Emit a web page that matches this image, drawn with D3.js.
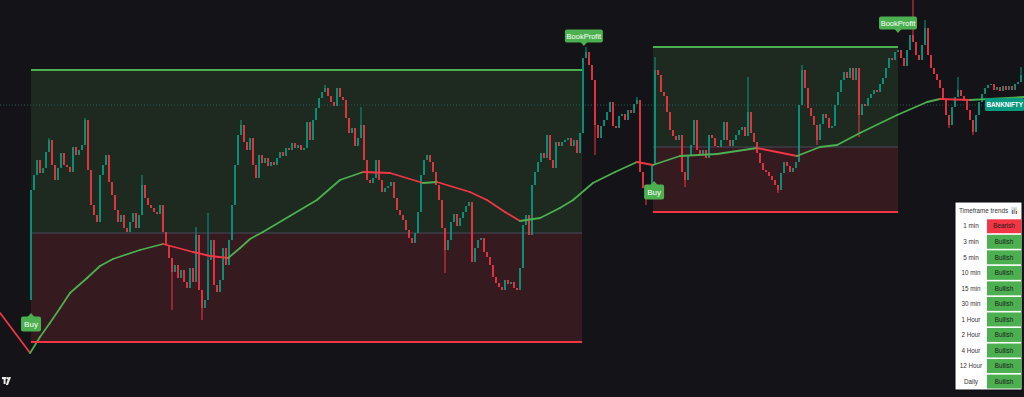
<!DOCTYPE html>
<html><head><meta charset="utf-8">
<script src="https://cdn.jsdelivr.net/npm/d3@7"></script>
<style>html,body{margin:0;padding:0;background:#141317;overflow:hidden}svg{display:block}</style>
</head><body><svg id="c" width="1024" height="397"></svg>
<script>
// ---------- DATA ----------
const symbol = "BANKNIFTY";
const lastPrice = 44295;
const firstOpen = 44100;
const closes = [
44210,44225,44240,44227,44232,44248,44260,44235,44220,44232,
44247,44235,44233,44228,44253,44245,44250,44255,44280,44230,
44195,44185,44178,44225,44235,44245,44218,44205,44190,44178,
44185,44172,44168,44178,44187,44172,44185,44215,44202,44195,
44192,44188,44186,44195,44168,44155,44142,44128,44135,44122,
44130,44118,44112,44132,44118,44165,44110,44092,44100,44140,
44160,44115,44108,44120,44152,44135,44160,44195,44235,44265,
44275,44258,44250,44262,44235,44222,44245,44237,44242,44234,
44238,44235,44242,44248,44244,44252,44250,44257,44252,44255,
44250,44252,44278,44260,44280,44292,44302,44308,44312,44304,
44298,44294,44312,44303,44300,44282,44267,44272,44254,44262,
44275,44240,44220,44217,44222,44240,44220,44208,44212,44214,
44218,44202,44190,44185,44180,44170,44162,44157,44167,44188,
44225,44240,44245,44238,44228,44215,44200,44172,44150,44160,
44178,44186,44174,44182,44188,44194,44198,44138,44152,44160,
44162,44148,44143,44135,44123,44117,44113,44110,44120,44116,
44118,44112,44110,44132,44175,44185,44165,44215,44228,44238,
44247,44242,44265,44240,44232,44258,44254,44258,44260,44262,
44254,44260,44247,44267,44342,44348,44335,44320,44275,44262,
44274,44280,44288,44298,44274,44272,44284,44286,44280,44290,
44287,44296,44300,44228,44212,44202,44210,44235,44330,44325,
44308,44304,44288,44270,44264,44260,44265,44228,44220,44245,
44255,44280,44250,44245,44250,44242,44265,44262,44254,44253,
44260,44278,44260,44254,44260,44265,44270,44273,44264,44288,
44267,44258,44247,44237,44230,44228,44224,44220,44215,44210,
44227,44238,44234,44228,44232,44238,44295,44330,44312,44292,
44284,44275,44260,44276,44286,44282,44272,44274,44295,44308,
44320,44328,44322,44332,44320,44332,44285,44296,44294,44302,
44306,44310,44308,44316,44322,44332,44342,44340,44348,44350,
44342,44334,44350,44365,44358,44345,44340,44355,44372,44345,
44332,44326,44320,44312,44300,44285,44275,44293,44303,44310,
44304,44300,44290,44280,44268,44285,44298,44306,44312,44315,
44316,44310,44313,44309,44314,44310,44314,44310,44316,44318,
44325];
const spikeHighIdx = [6,18,37,55,59,70,98,110,185,202,208,239,257,294,298,309,330];
const spikeHighVal = [44262,44282,44225,44173,44187,44280,44315,44293,44353,44303,44343,44323,44335,44400,44380,44323,44333];
const spikeLowIdx = [47,57,138,188,205,218,249,262,276,306,314];
const spikeLowVal = [44090,44080,44127,44245,44195,44213,44207,44255,44263,44272,44265];

const maIdx = [-10.3,-0.3,3,6.3,9.7,13,18.7,23,27.3,36.3,44,54,59.7,65.7,69.7,73,77.3,86.3,95.3,103,110.7,119.7,130.7,135.3,146.3,152,158,163,169.7,176.3,180.7,187.3,194.7,202,207.3,216.3,228.7,242,255.3,263,268.7,276.3,288.7,298.7,303,313,331];
const maVal = [44087,44047,44063,44077,44092,44107,44122,44134,44141,44150,44156,44148,44144,44142,44152,44161,44168,44184,44200,44220,44228,44227,44217,44218,44208,44200,44188,44179,44182,44192,44200,44217,44228,44238,44235,44244,44246,44252,44244,44253,44255,44267,44285,44298,44301,44300,44303];

const zoneStart = [0, 207.3];
const zoneEnd = [183.7, 289];
const zoneTarget = [44330, 44353];
const zoneEntry = [44167, 44253];
const zoneStop = [44058, 44188];

const signalText = ["Buy","Buy","BookProfit","BookProfit"];
const signalIdx = [0, 207.7, 184.3, 289];
const signalPrice = [44087, 44219, 44354, 44367];
const signalSide = ["below","below","above","above"];

const tableTitle = "Timeframe trends";
const tfLabels = ["1 min","3 min","5 min","10 min","15 min","30 min","1 Hour","2 Hour","4 Hour","12 Hour","Daily"];
const tfTrends = ["Bearish","Bullish","Bullish","Bullish","Bullish","Bullish","Bullish","Bullish","Bullish","Bullish","Bullish"];

// ---------- DRAW ----------
const W = 1024, H = 397;
const UP = "#089981", DN = "#f23645", GR = "#4caf50";
const FONT = "Liberation Sans, Arial, sans-serif";
const svg = d3.select("#c");
svg.append("rect").attr("width", W).attr("height", H).attr("fill", "#141317");

const x = d3.scaleLinear().domain([0, 330]).range([31, 1021]);
const y = d3.scaleLinear().domain([44400, 44003]).range([0, 397]);

const candles = closes.map((c, i) => {
  const o = i === 0 ? firstOpen : closes[i - 1];
  return {i, o, c, h: Math.max(o, c), l: Math.min(o, c)};
});
spikeHighIdx.forEach((i, k) => { candles[i].h = Math.max(candles[i].h, spikeHighVal[k]); });
spikeLowIdx.forEach((i, k) => { candles[i].l = Math.min(candles[i].l, spikeLowVal[k]); });

// zones
const zones = zoneStart.map((s, k) => ({s, e: zoneEnd[k], t: zoneTarget[k], m: zoneEntry[k], b: zoneStop[k]}));
const gz = svg.append("g");
gz.selectAll("rect.g").data(zones).join("rect")
  .attr("x", d => x(d.s)).attr("width", d => x(d.e) - x(d.s))
  .attr("y", d => y(d.t)).attr("height", d => y(d.m) - y(d.t)).attr("fill", "#1e2a20");
gz.selectAll("rect.r").data(zones).join("rect")
  .attr("x", d => x(d.s)).attr("width", d => x(d.e) - x(d.s))
  .attr("y", d => y(d.m)).attr("height", d => y(d.b) - y(d.m)).attr("fill", "#351a20");
gz.selectAll("line.m").data(zones).join("line")
  .attr("x1", d => x(d.s)).attr("x2", d => x(d.e))
  .attr("y1", d => y(d.m)).attr("y2", d => y(d.m)).attr("stroke", "#3e3c48").attr("stroke-width", 1.5);

// last price dotted line
svg.append("line").attr("x1", 0).attr("x2", 985).attr("y1", y(lastPrice)).attr("y2", y(lastPrice))
  .attr("stroke", "#1f6f64").attr("stroke-width", 1).attr("stroke-dasharray", "1,2").attr("opacity", 0.8);

// candles
const gc = svg.append("g");
gc.selectAll("line").data(candles).join("line")
  .attr("x1", d => x(d.i)).attr("x2", d => x(d.i))
  .attr("y1", d => y(d.h)).attr("y2", d => y(d.l))
  .attr("stroke", d => d.c >= d.o ? UP : DN).attr("stroke-width", 1);
gc.selectAll("rect").data(candles).join("rect")
  .attr("x", d => x(d.i) - 0.8).attr("width", 1.6)
  .attr("y", d => y(Math.max(d.o, d.c)))
  .attr("height", d => Math.max(1, Math.abs(y(d.o) - y(d.c))))
  .attr("fill", d => d.c >= d.o ? UP : DN);

// MA
const ma = maIdx.map((v, k) => ({i: v, p: maVal[k]}));
const gm = svg.append("g");
for (let k = 0; k < ma.length - 1; k++) {
  const a = ma[k], b = ma[k + 1];
  gm.append("line").attr("x1", x(a.i)).attr("y1", y(a.p)).attr("x2", x(b.i)).attr("y2", y(b.p))
    .attr("stroke", b.p >= a.p ? GR : DN).attr("stroke-width", 1.8).attr("stroke-linecap", "round");
}

// zone target/stop lines
svg.append("g").selectAll("line").data(zones).join("line")
  .attr("x1", d => x(d.s)).attr("x2", d => x(d.e))
  .attr("y1", d => y(d.t)).attr("y2", d => y(d.t)).attr("stroke", GR).attr("stroke-width", 2);
svg.append("g").selectAll("line").data(zones).join("line")
  .attr("x1", d => x(d.s)).attr("x2", d => x(d.e))
  .attr("y1", d => y(d.b)).attr("y2", d => y(d.b)).attr("stroke", DN).attr("stroke-width", 2);

// signal labels
const sig = signalText.map((t, k) => ({t, i: signalIdx[k], p: signalPrice[k], side: signalSide[k]}));
sig.forEach(s => {
  const cx = x(s.i), ty = y(s.p);
  const w = s.t === "Buy" ? 20 : 38, h = s.t === "Buy" ? 15 : 13;
  const g = svg.append("g");
  if (s.side === "below") {
    g.append("path").attr("d", `M${cx},${ty} L${cx-3.5},${ty+4} L${cx+3.5},${ty+4} Z`).attr("fill", GR);
    g.append("rect").attr("x", cx - w/2).attr("y", ty + 3.5).attr("width", w).attr("height", h).attr("rx", 2).attr("fill", GR);
    g.append("text").attr("x", cx).attr("y", ty + 3.5 + h/2 + 2.8).attr("text-anchor", "middle")
      .attr("font-family", FONT).attr("font-size", 8).attr("fill", "#fff").text(s.t);
  } else {
    g.append("path").attr("d", `M${cx},${ty} L${cx-3.5},${ty-4} L${cx+3.5},${ty-4} Z`).attr("fill", GR);
    g.append("rect").attr("x", cx - w/2).attr("y", ty - 3.5 - h).attr("width", w).attr("height", h).attr("rx", 2).attr("fill", GR);
    g.append("text").attr("x", cx).attr("y", ty - 3.5 - h/2 + 2.8).attr("text-anchor", "middle")
      .attr("font-family", FONT).attr("font-size", 7.5).attr("fill", "#fff").text(s.t);
  }
});

// symbol price label
const ly = y(lastPrice);
svg.append("rect").attr("x", 985).attr("y", ly - 7).attr("width", 39).attr("height", 13).attr("rx", 1.5).attr("fill", "#089981");
svg.append("text").attr("x", 986.5).attr("y", ly + 2.4).attr("font-family", FONT)
  .attr("font-size", 6.3).attr("font-weight", "bold").attr("fill", "#fff").text(symbol);

// table
const tb = svg.append("g");
const tx = 955, ty0 = 202, tw = 67, th = 188;
tb.append("rect").attr("x", tx).attr("y", ty0).attr("width", tw).attr("height", th).attr("fill", "#fff").attr("stroke", "#0b0b0e").attr("stroke-width", 1);
tb.append("text").attr("x", tx + 4).attr("y", ty0 + 11).attr("font-family", FONT)
  .attr("font-size", 6.3).attr("fill", "#333").text(tableTitle);
// small chart icon
tb.append("rect").attr("x", tx + 56).attr("y", ty0 + 5).attr("width", 6).attr("height", 7).attr("fill", "#cfe3f5");
tb.append("rect").attr("x", tx + 57).attr("y", ty0 + 8).attr("width", 1.3).attr("height", 4).attr("fill", "#3f7fd6");
tb.append("rect").attr("x", tx + 59).attr("y", ty0 + 6.5).attr("width", 1.3).attr("height", 5.5).attr("fill", "#e0a030");
tb.append("rect").attr("x", tx + 61).attr("y", ty0 + 9).attr("width", 1).attr("height", 3).attr("fill", "#d04040");
const rowY = d3.scaleBand().domain(tfLabels).range([218.5, 218.5 + 15.53 * tfLabels.length]);
tfLabels.forEach((lab, k) => {
  const yy = rowY(lab), bh = rowY.bandwidth();
  tb.append("rect").attr("x", 987).attr("y", yy + 0.8).attr("width", 34.5).attr("height", bh - 1.6)
    .attr("fill", tfTrends[k] === "Bearish" ? DN : GR);
  tb.append("text").attr("x", 971).attr("y", yy + bh/2 + 2.2).attr("text-anchor", "middle")
    .attr("font-family", FONT).attr("font-size", 6.3).attr("fill", "#333").text(lab);
  tb.append("text").attr("x", 1004).attr("y", yy + bh/2 + 2.2).attr("text-anchor", "middle")
    .attr("font-family", FONT).attr("font-size", 6.3).attr("fill", "#1a1a1a").text(tfTrends[k]);
});

// TradingView logo mark
const lg = svg.append("g").attr("fill", "#e8e8e8");
lg.append("rect").attr("x", 2).attr("y", 377).attr("width", 4).attr("height", 2.2);
lg.append("rect").attr("x", 3.6).attr("y", 377).attr("width", 2).attr("height", 7);
lg.append("circle").attr("cx", 7.3).attr("cy", 378.2).attr("r", 1.1);
lg.append("path").attr("d", "M8.5,377 L11,377 L8,385 L5.8,385 Z");
</script></body></html>
